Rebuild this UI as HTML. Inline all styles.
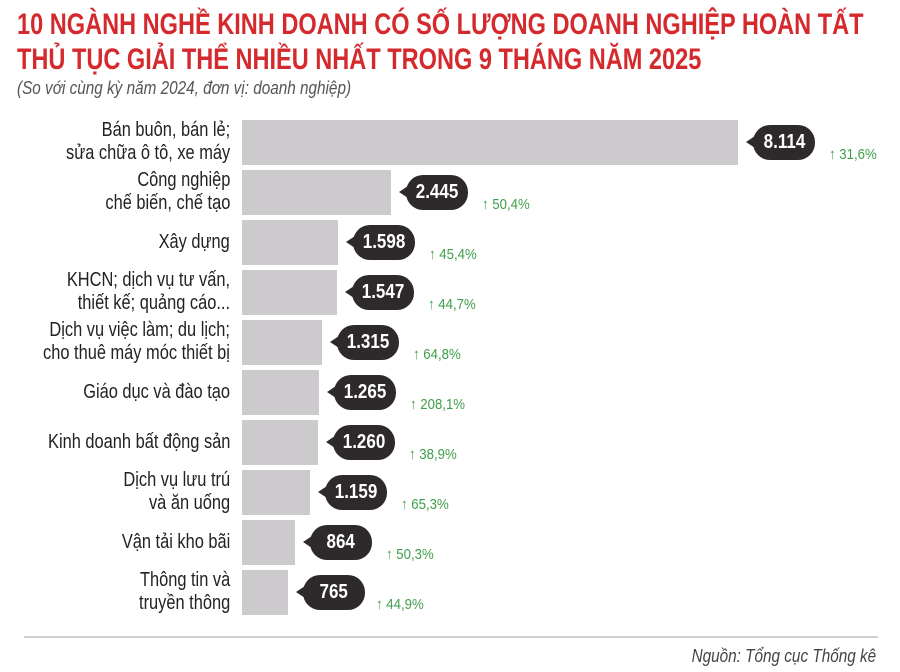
<!DOCTYPE html>
<html><head><meta charset="utf-8"><style>
body{margin:0;width:900px;height:672px;background:#fff;position:relative;overflow:hidden;font-family:"Liberation Sans",sans-serif}
.t{position:absolute;left:17px;color:#d42a2e;font-weight:bold;font-size:30px;white-space:nowrap;transform-origin:0 0;transform:scaleX(0.785)}
.sub{position:absolute;left:17px;top:78px;color:#555;font-style:italic;font-size:18px;transform-origin:0 0;transform:scaleX(0.85);white-space:nowrap}
.bar{position:absolute;left:242px;height:45px;background:#cdcacd}
.lab{position:absolute;right:670px;text-align:right;font-size:20px;line-height:23px;color:#222;white-space:nowrap;transform-origin:100% 50%;transform:scaleX(0.82)}
.bub{position:absolute;height:35px;width:62px;background:#2e2a2b;border-radius:17px;color:#fff;font-weight:bold;font-size:20px;line-height:35px;text-align:center}
.bub span{display:inline-block;transform:scaleX(0.85)}
.bub:before{content:"";position:absolute;left:-7px;top:11px;border-right:9px solid #2e2a2b;border-top:6px solid transparent;border-bottom:6px solid transparent}
.pct{position:absolute;color:#3f9e4a;font-size:15px;white-space:nowrap;transform-origin:0 0;transform:scaleX(0.88)}
</style></head><body>
<div class="t" style="top:8px">10 NGÀNH NGHỀ KINH DOANH CÓ SỐ LƯỢNG DOANH NGHIỆP HOÀN TẤT</div>
<div class="t" style="top:43px">THỦ TỤC GIẢI THỂ NHIỀU NHẤT TRONG 9 THÁNG NĂM 2025</div>
<div class="sub">(So với cùng kỳ năm 2024, đơn vị: doanh nghiệp)</div>

<div class="bar" style="top:120px;width:496px"></div>
<div class="bar" style="top:170px;width:149px"></div>
<div class="bar" style="top:220px;width:96px"></div>
<div class="bar" style="top:270px;width:95px"></div>
<div class="bar" style="top:320px;width:80px"></div>
<div class="bar" style="top:370px;width:77px"></div>
<div class="bar" style="top:420px;width:76px"></div>
<div class="bar" style="top:470px;width:68px"></div>
<div class="bar" style="top:520px;width:53px"></div>
<div class="bar" style="top:570px;width:46px"></div>

<div class="lab" style="top:119px">Bán buôn, bán lẻ;<br>sửa chữa ô tô, xe máy</div>
<div class="lab" style="top:169px">Công nghiệp<br>chế biến, chế tạo</div>
<div class="lab" style="top:231px">Xây dựng</div>
<div class="lab" style="top:269px">KHCN; dịch vụ tư vấn,<br>thiết kế; quảng cáo...</div>
<div class="lab" style="top:319px">Dịch vụ việc làm; du lịch;<br>cho thuê máy móc thiết bị</div>
<div class="lab" style="top:381px">Giáo dục và đào tạo</div>
<div class="lab" style="top:431px">Kinh doanh bất động sản</div>
<div class="lab" style="top:469px">Dịch vụ lưu trú<br>và ăn uống</div>
<div class="lab" style="top:531px">Vận tải kho bãi</div>
<div class="lab" style="top:569px">Thông tin và<br>truyền thông</div>

<div class="bub" style="left:753px;top:125px"><span>8.114</span></div>
<div class="bub" style="left:406px;top:175px"><span>2.445</span></div>
<div class="bub" style="left:353px;top:225px"><span>1.598</span></div>
<div class="bub" style="left:352px;top:275px"><span>1.547</span></div>
<div class="bub" style="left:337px;top:325px"><span>1.315</span></div>
<div class="bub" style="left:334px;top:375px"><span>1.265</span></div>
<div class="bub" style="left:333px;top:425px"><span>1.260</span></div>
<div class="bub" style="left:325px;top:475px"><span>1.159</span></div>
<div class="bub" style="left:310px;top:525px"><span>864</span></div>
<div class="bub" style="left:303px;top:575px"><span>765</span></div>

<div class="pct" style="left:829px;top:146px">↑ 31,6%</div>
<div class="pct" style="left:482px;top:196px">↑ 50,4%</div>
<div class="pct" style="left:429px;top:246px">↑ 45,4%</div>
<div class="pct" style="left:428px;top:296px">↑ 44,7%</div>
<div class="pct" style="left:413px;top:346px">↑ 64,8%</div>
<div class="pct" style="left:410px;top:396px">↑ 208,1%</div>
<div class="pct" style="left:409px;top:446px">↑ 38,9%</div>
<div class="pct" style="left:401px;top:496px">↑ 65,3%</div>
<div class="pct" style="left:386px;top:546px">↑ 50,3%</div>
<div class="pct" style="left:376px;top:596px">↑ 44,9%</div>

<div style="position:absolute;left:24px;top:636px;width:854px;height:2px;background:#cfcfcf"></div>
<div style="position:absolute;right:24px;top:646px;font-style:italic;color:#444;font-size:18px;transform-origin:100% 0;transform:scaleX(0.85);white-space:nowrap">Nguồn: Tổng cục Thống kê</div>
</body></html>
